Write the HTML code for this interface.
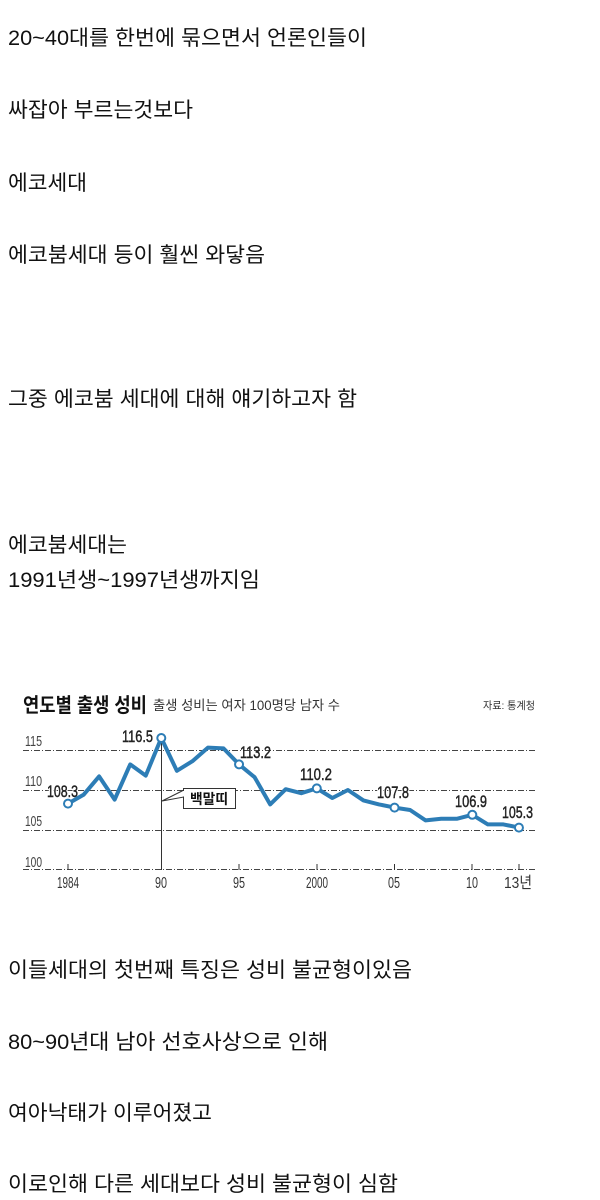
<!DOCTYPE html>
<html><head><meta charset="utf-8"><style>
html,body{margin:0;padding:0;background:#fff;}
svg{display:block;}
text{font-family:"Liberation Sans","Noto Sans CJK KR",sans-serif;}
.b{font-size:21px;fill:#111;}
</style></head><body>
<svg width="600" height="1200" viewBox="0 0 600 1200" xmlns="http://www.w3.org/2000/svg">
<rect width="600" height="1200" fill="#fff"/>
<text class="b" x="8" y="45" textLength="359" lengthAdjust="spacingAndGlyphs">20~40대를 한번에 묶으면서 언론인들이</text>
<text class="b" x="8" y="117" textLength="185" lengthAdjust="spacingAndGlyphs">싸잡아 부르는것보다</text>
<text class="b" x="8" y="190" textLength="79" lengthAdjust="spacingAndGlyphs">에코세대</text>
<text class="b" x="8" y="262" textLength="257" lengthAdjust="spacingAndGlyphs">에코붐세대 등이 훨씬 와닿음</text>
<text class="b" x="8" y="406" textLength="349" lengthAdjust="spacingAndGlyphs">그중 에코붐 세대에 대해 얘기하고자 함</text>
<text class="b" x="8" y="552" textLength="119" lengthAdjust="spacingAndGlyphs">에코붐세대는</text>
<text class="b" x="8" y="587" textLength="252" lengthAdjust="spacingAndGlyphs">1991년생~1997년생까지임</text>
<text class="b" x="8" y="977" textLength="404" lengthAdjust="spacingAndGlyphs">이들세대의 첫번째 특징은 성비 불균형이있음</text>
<text class="b" x="8" y="1049" textLength="320" lengthAdjust="spacingAndGlyphs">80~90년대 남아 선호사상으로 인해</text>
<text class="b" x="8" y="1120" textLength="204" lengthAdjust="spacingAndGlyphs">여아낙태가 이루어졌고</text>
<text class="b" x="8" y="1191" textLength="390" lengthAdjust="spacingAndGlyphs">이로인해 다른 세대보다 성비 불균형이 심함</text>

<!-- chart -->
<text x="23" y="712" font-size="20" font-weight="bold" fill="#111" textLength="124" lengthAdjust="spacingAndGlyphs">연도별 출생 성비</text>
<text x="153" y="710" font-size="13.5" fill="#333" textLength="187" lengthAdjust="spacingAndGlyphs">출생 성비는 여자 100명당 남자 수</text>
<text x="483" y="709" font-size="10.5" fill="#333" textLength="52" lengthAdjust="spacingAndGlyphs">자료: 통계청</text>

<g stroke="#444" stroke-width="1" stroke-dasharray="6 2 1 2" fill="none">
<line x1="23" y1="750.5" x2="537" y2="750.5"/>
<line x1="23" y1="790.5" x2="537" y2="790.5"/>
<line x1="23" y1="830.5" x2="537" y2="830.5"/>
<line x1="23" y1="869.5" x2="537" y2="869.5"/>
</g>
<g fill="#444" font-size="15">
<text x="25" y="746" textLength="17" lengthAdjust="spacingAndGlyphs">115</text>
<text x="25" y="786" textLength="17" lengthAdjust="spacingAndGlyphs">110</text>
<text x="25" y="826" textLength="17" lengthAdjust="spacingAndGlyphs">105</text>
<text x="25" y="867" textLength="17" lengthAdjust="spacingAndGlyphs">100</text>
</g>
<g stroke="#333" stroke-width="1">
<line x1="68" y1="864" x2="68" y2="870"/>
<line x1="239" y1="864" x2="239" y2="870"/>
<line x1="317" y1="864" x2="317" y2="870"/>
<line x1="394.5" y1="864" x2="394.5" y2="870"/>
<line x1="472" y1="864" x2="472" y2="870"/>
<line x1="519" y1="864" x2="519" y2="870"/>
<line x1="161.5" y1="738" x2="161.5" y2="870"/>
</g>
<g fill="#333" font-size="16">
<text x="57" y="888" textLength="22" lengthAdjust="spacingAndGlyphs">1984</text>
<text x="155" y="888" textLength="12" lengthAdjust="spacingAndGlyphs">90</text>
<text x="233" y="888" textLength="12" lengthAdjust="spacingAndGlyphs">95</text>
<text x="306" y="888" textLength="22" lengthAdjust="spacingAndGlyphs">2000</text>
<text x="388" y="888" textLength="12" lengthAdjust="spacingAndGlyphs">05</text>
<text x="466" y="888" textLength="12" lengthAdjust="spacingAndGlyphs">10</text>
<text x="504" y="888" textLength="28" lengthAdjust="spacingAndGlyphs">13년</text>
</g>

<!-- callout -->
<polygon points="184,790 162,801 184,797" fill="#fff" stroke="#333" stroke-width="1"/>
<rect x="183.5" y="788.5" width="52" height="20" fill="#fff" stroke="#333" stroke-width="1"/>
<line x1="183.5" y1="791" x2="183.5" y2="796.5" stroke="#fff" stroke-width="1.5"/>
<text x="190" y="804" font-size="14" font-weight="bold" fill="#111" textLength="38" lengthAdjust="spacingAndGlyphs">백말띠</text>

<!-- data labels (halo) -->
<g font-size="16.5" fill="#fff" stroke="#fff" stroke-width="3" stroke-linejoin="round">
<text x="47" y="797" textLength="31" lengthAdjust="spacingAndGlyphs">108.3</text>
<text x="377" y="798" textLength="32" lengthAdjust="spacingAndGlyphs">107.8</text>
</g>
<g font-size="16.5" fill="#222" stroke="#222" stroke-width="0.45">
<text x="47" y="797" textLength="31" lengthAdjust="spacingAndGlyphs">108.3</text>
<text x="122" y="742" textLength="31" lengthAdjust="spacingAndGlyphs">116.5</text>
<text x="240" y="758" textLength="31" lengthAdjust="spacingAndGlyphs">113.2</text>
<text x="300" y="780" textLength="32" lengthAdjust="spacingAndGlyphs">110.2</text>
<text x="377" y="798" textLength="32" lengthAdjust="spacingAndGlyphs">107.8</text>
<text x="455" y="807" textLength="32" lengthAdjust="spacingAndGlyphs">106.9</text>
<text x="502" y="818" textLength="31" lengthAdjust="spacingAndGlyphs">105.3</text>
</g>

<!-- series -->
<polyline fill="none" stroke="#2d7db6" stroke-width="4" stroke-linejoin="round" stroke-linecap="round" points="
68,803.6 83.55,794.8 99.1,776.4 114.65,799.6 130.2,764.4 145.75,775.6 161.3,738 176.85,770.8 192.4,761.2 207.95,747.6 223.5,748.4 239.05,764.4 254.6,777.2 270.15,804.4 285.7,789.2 301.25,793.2 316.8,788.4 332.35,798 347.9,790 363.45,800.4 379,804.4 394.55,807.6 410.1,810 425.65,820.4 441.2,818.8 456.75,818.8 472.3,814.8 487.85,824.4 503.4,824.4 518.95,827.6"/>
<g fill="#fff" stroke="#2d7db6" stroke-width="2">
<circle cx="68" cy="803.6" r="4"/>
<circle cx="161.3" cy="738" r="4"/>
<circle cx="239.05" cy="764.4" r="4"/>
<circle cx="316.8" cy="788.4" r="4"/>
<circle cx="394.55" cy="807.6" r="4"/>
<circle cx="472.3" cy="814.8" r="4"/>
<circle cx="518.95" cy="827.6" r="4"/>
</g>
</svg>
</body></html>
